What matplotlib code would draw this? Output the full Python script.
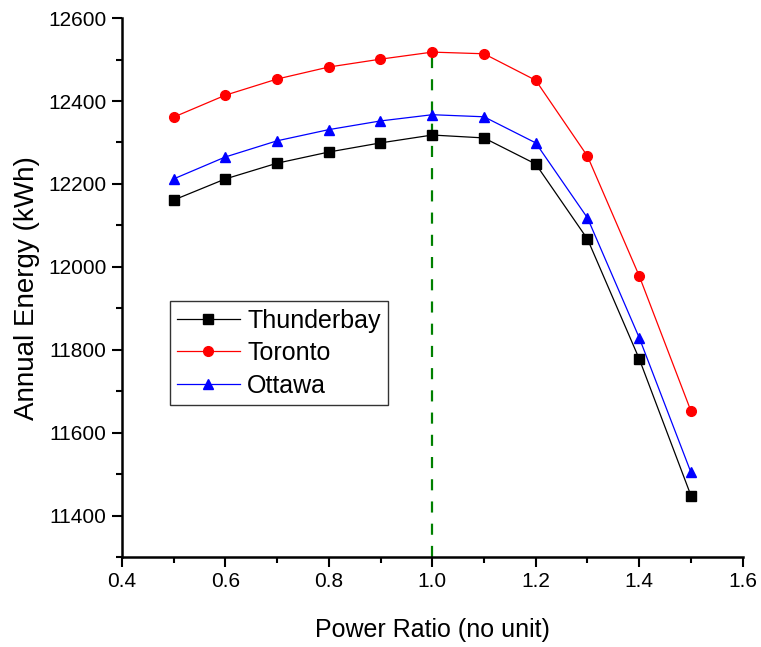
import matplotlib
matplotlib.use("Agg")
import matplotlib.pyplot as plt
import matplotlib.ticker as mticker

plt.rcParams["font.family"] = ["Liberation Sans", "DejaVu Sans"]

# ---------------------------------------------------------------------------
# Data
# ---------------------------------------------------------------------------
power_ratio = [0.5, 0.6, 0.7, 0.8, 0.9, 1.0, 1.1, 1.2, 1.3, 1.4, 1.5]
thunderbay = [12161, 12212, 12250, 12277, 12299, 12318, 12311, 12248, 12067, 11778, 11448]
toronto = [12361, 12414, 12453, 12482, 12501, 12518, 12514, 12450, 12267, 11978, 11652]
ottawa = [12212, 12265, 12304, 12331, 12352, 12367, 12362, 12299, 12118, 11829, 11504]
optimum_ratio = 1.0

# ---------------------------------------------------------------------------
# Plot
# ---------------------------------------------------------------------------
fig = plt.figure(figsize=(7.61, 6.47), dpi=100)
ax = fig.add_axes([0.160, 0.139, 0.816, 0.833])

ax.plot(power_ratio, thunderbay, color="black", lw=0.9, marker="s", ms=6.5, label="Thunderbay")
ax.plot(power_ratio, toronto, color="red", lw=0.9, marker="o", ms=7, label="Toronto")
ax.plot(power_ratio, ottawa, color="blue", lw=0.9, marker="^", ms=7.5, label="Ottawa")

ax.vlines(optimum_ratio, 11300, max(toronto), colors="green", linestyles=(0, (5, 5)), lw=1.6, zorder=0)

ax.set_xlim(0.4, 1.6)
ax.set_ylim(11300, 12600)
ax.xaxis.set_major_locator(mticker.MultipleLocator(0.2))
ax.xaxis.set_minor_locator(mticker.MultipleLocator(0.1))
ax.yaxis.set_major_locator(mticker.FixedLocator([11400, 11600, 11800, 12000, 12200, 12400, 12600]))
ax.yaxis.set_minor_locator(mticker.MultipleLocator(100))
ax.xaxis.set_major_formatter(mticker.FormatStrFormatter("%.1f"))

for side in ("top", "right"):
    ax.spines[side].set_visible(False)
for side in ("left", "bottom"):
    ax.spines[side].set_linewidth(1.8)

ax.tick_params(which="major", direction="out", length=7, width=1.5, labelsize=15, pad=4)
ax.tick_params(which="minor", direction="out", length=4.5, width=1.5)

ax.set_xlabel("Power Ratio (no unit)", fontsize=18, labelpad=19)
ax.set_ylabel("Annual Energy (kWh)", fontsize=20, labelpad=6)

leg = ax.legend(loc="upper left", bbox_to_anchor=(0.077, 0.475), fontsize=18,
                frameon=True, fancybox=False, edgecolor="black", handlelength=2.5,
                borderpad=0.3, labelspacing=0.34, handletextpad=0.3, borderaxespad=0)
leg.get_frame().set_linewidth(1.0)

fig.savefig("out.png", dpi=100, facecolor="white")
